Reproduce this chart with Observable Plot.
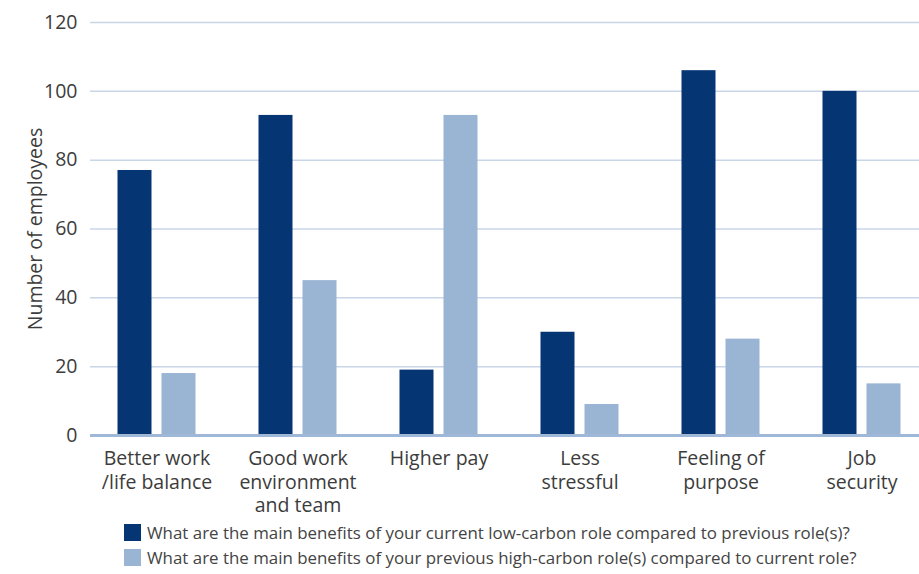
<!DOCTYPE html>
<html>
<head>
<meta charset="utf-8">
<script src="https://cdn.jsdelivr.net/npm/d3@7"></script>
<script src="https://cdn.jsdelivr.net/npm/@observablehq/plot@0.6"></script>
<style>
  body { margin: 0; background: #fff; font-family: "Open Sans", Lato, sans-serif; }
  #legend { margin-left: 124px; font-size: 16.9px; color: #444; }
  .row { display: flex; align-items: center; height: 25px; }
  .sw { width: 17px; height: 17px; margin-right: 6px; flex: none; }
</style>
</head>
<body>
<div id="chart"></div>
<div id="legend"></div>
<script>
const categories = [
  "Better work\n/life balance",
  "Good work\nenvironment\nand team",
  "Higher pay",
  "Less\nstressful",
  "Feeling of\npurpose",
  "Job\nsecurity"
];
const seriesNames = [
  "What are the main benefits of your current low-carbon role compared to previous role(s)?",
  "What are the main benefits of your previous high-carbon role(s) compared to current role?"
];
const lowCarbonValues = [77, 93, 19, 30, 106, 100];
const highCarbonValues = [18, 45, 93, 9, 28, 15];
const colors = ["#063574", "#9ab4d4"];
const yTicks = [0, 20, 40, 60, 80, 100, 120];

const low = categories.map((c, i) => ({category: c, value: lowCarbonValues[i]}));
const high = categories.map((c, i) => ({category: c, value: highCarbonValues[i]}));

const chart = Plot.plot({
  width: 919,
  height: 520,
  marginLeft: 90,
  marginRight: 0,
  marginTop: 22,
  marginBottom: 85,
  style: {fontFamily: "'Open Sans', Lato, sans-serif", color: "#3c3c3c", background: "#fff"},
  x: {domain: categories, range: [85.5, 931.5], padding: 0},
  y: {domain: [0, 120]},
  marks: [
    Plot.ruleY(yTicks.filter(d => d > 0), {stroke: "#c8d6e8", strokeWidth: 1.5}),
    Plot.barY(low, {x: "category", y: "value", fill: colors[0], insetLeft: 31.5, insetRight: 75.5}),
    Plot.barY(high, {x: "category", y: "value", fill: colors[1], insetLeft: 75.5, insetRight: 31.5}),
    Plot.ruleY([0], {stroke: "#9fb8d8", strokeWidth: 3}),
    Plot.axisY({ticks: yTicks, tickSize: 0, tickPadding: 13, fontSize: 19.5, label: "Number of employees", labelAnchor: "center", labelOffset: 62, labelArrow: false}),
    Plot.axisX({tickSize: 0, tickPadding: 12, fontSize: 19.5, lineHeight: 1.23, label: null})
  ]
});
document.getElementById("chart").append(chart);

const legend = document.getElementById("legend");
seriesNames.forEach((name, i) => {
  const row = document.createElement("div");
  row.className = "row";
  const sw = document.createElement("span");
  sw.className = "sw";
  sw.style.background = colors[i];
  const t = document.createElement("span");
  t.textContent = name;
  row.append(sw, t);
  legend.append(row);
});
</script>
</body>
</html>
